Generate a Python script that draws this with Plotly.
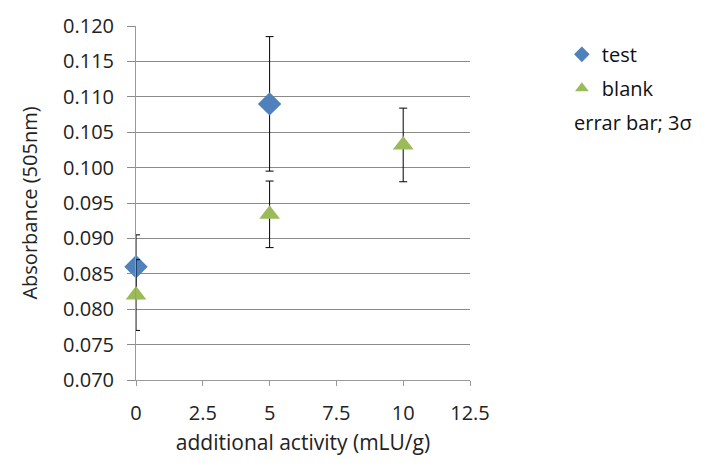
import plotly.graph_objects as go

test_x = [0, 5]
test_y = [0.0860, 0.1090]
test_err = [0.0045, 0.0095]

blank_x = [0, 5, 10]
blank_y = [0.0820, 0.0934, 0.1032]
blank_err = [0.0050, 0.0047, 0.0052]

x_ticks = [0, 2.5, 5, 7.5, 10, 12.5]
x_labels = ["0", "2.5", "5", "7.5", "10", "12.5"]
y_ticks = [0.070, 0.075, 0.080, 0.085, 0.090, 0.095, 0.100, 0.105, 0.110, 0.115, 0.120]
y_labels = ["%.3f" % v for v in y_ticks]

font = "Open Sans"
fig = go.Figure()
fig.add_trace(go.Scatter(
    x=test_x, y=test_y, mode="markers", name="test", legendgroup="t",
    marker=dict(symbol="diamond", size=18, color="#4F81BD"),
    error_y=dict(type="data", array=test_err, color="black", thickness=1, width=4),
    cliponaxis=False,
))
fig.add_trace(go.Scatter(
    x=blank_x, y=blank_y, mode="markers", name="blank", legendgroup="b",
    marker=dict(symbol="triangle-up", size=18, color="#9BBB59"),
    error_y=dict(type="data", array=blank_err, color="black", thickness=1, width=4),
    cliponaxis=False,
))

fig.add_annotation(text="errar bar; 3σ", xref="paper", yref="paper",
                   x=1.305, y=0.728, xanchor="left", yanchor="middle", showarrow=False,
                   font=dict(family=font, size=20, color="#111"))

fig.update_layout(
    width=715, height=466,
    margin=dict(l=136, r=245, t=23, b=86),
    paper_bgcolor="white", plot_bgcolor="white",
    font=dict(family=font, size=20, color="#222"),
    showlegend=True,
    legend=dict(x=1.275, y=0.975, xanchor="left", yanchor="top",
                font=dict(family=font, size=20, color="#111"),
                itemsizing="constant", tracegroupgap=5),
    xaxis=dict(range=[0, 12.5], tickvals=x_ticks, ticktext=x_labels,
               showgrid=False, zeroline=False, showline=True, linecolor="#999",
               ticks="outside", ticklen=5, tickcolor="#999", ticklabelstandoff=10,
               title=dict(text="additional activity (mLU/g)", standoff=10,
                          font=dict(family=font, size=21)),
               tickfont=dict(family=font, size=20)),
    yaxis=dict(range=[0.070, 0.120], tickvals=y_ticks, ticktext=y_labels,
               showgrid=True, gridcolor="#8a8a8a", gridwidth=1,
               zeroline=False, showline=True, linecolor="#999",
               ticks="outside", ticklen=8, tickcolor="#8a8a8a", ticklabelstandoff=9,
               title=dict(text="Absorbance (505nm)", standoff=20,
                          font=dict(family=font, size=20)),
               tickfont=dict(family=font, size=20)),
)

fig.write_html("out.html")
